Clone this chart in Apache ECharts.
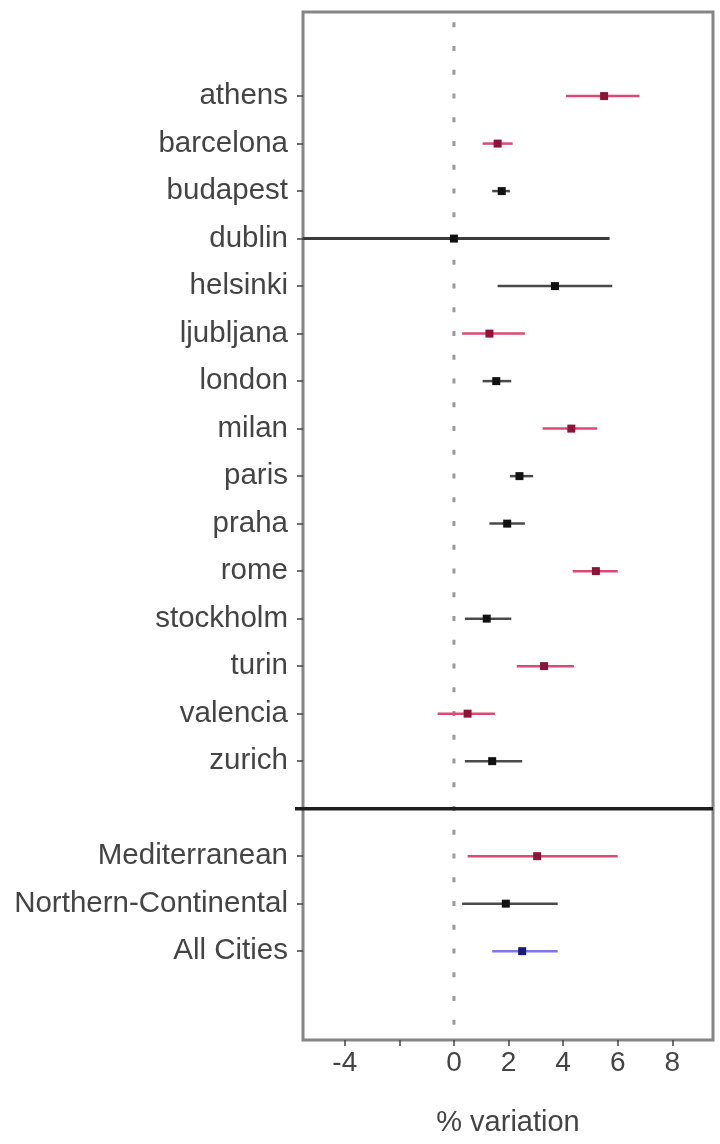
<!DOCTYPE html>
<html>
<head>
<meta charset="utf-8">
<script src="https://cdn.jsdelivr.net/npm/echarts@6/dist/echarts.min.js"></script>
<style>
  html, body { margin: 0; padding: 0; background: #fff; }
  #chart { width: 720px; height: 1144px; }
</style>
</head>
<body>
<div id="chart"></div>
<script>
// City-level estimates (% variation) with 95% interval bounds
const cities = ['athens', 'barcelona', 'budapest', 'dublin', 'helsinki', 'ljubljana', 'london',
  'milan', 'paris', 'praha', 'rome', 'stockholm', 'turin', 'valencia', 'zurich'];
const cityEst  = [5.5, 1.6, 1.75, 0.0, 3.7, 1.3, 1.55, 4.3, 2.4, 1.95, 5.2, 1.2, 3.3, 0.5, 1.4];
const cityLow  = [4.1, 1.05, 1.4, -6.0, 1.6, 0.3, 1.05, 3.25, 2.05, 1.3, 4.35, 0.4, 2.3, -0.6, 0.4];
const cityHigh = [6.8, 2.15, 2.05, 5.7, 5.8, 2.6, 2.1, 5.25, 2.9, 2.6, 6.0, 2.1, 4.4, 1.5, 2.5];
// 0 = Northern-Continental, 1 = Mediterranean
const cityRegion = [1, 1, 0, 0, 0, 1, 0, 1, 0, 0, 1, 0, 1, 1, 0];

// Pooled estimates
const groups = ['Mediterranean', 'Northern-Continental', 'All Cities'];
const groupEst  = [3.05, 1.9, 2.5];
const groupLow  = [0.5, 0.3, 1.4];
const groupHigh = [6.0, 3.8, 3.8];
const groupStyle = [1, 0, 2];

// Axis ticks
const xTicks = [-4, -2, 0, 2, 4, 6, 8];
const xTickLabels = [-4, 0, 2, 4, 6, 8];

const X_MIN = -5.53, X_MAX = 9.49;
const Y_MIN = -0.77, Y_MAX = 20.87;
const SEPARATOR_ROW = 16;

const palette = [
  { line: '#4a4a4a', point: '#111111' },   // northern / continental
  { line: '#dc4a74', point: '#8c1438' },   // mediterranean
  { line: '#7a78ee', point: '#1a1a78' }    // all cities
];

// rows: cities at 1..15, separator at 16, pooled groups at 17..19
const rowNames = {};
cities.forEach((c, i) => { rowNames[i + 1] = c; });
groups.forEach((g, i) => { rowNames[SEPARATOR_ROW + 1 + i] = g; });

const intervalData = [];
cities.forEach((c, i) => {
  intervalData.push([cityLow[i], cityHigh[i], cityEst[i], i + 1, cityRegion[i], i === 3 ? 1 : 0]);
});
groups.forEach((g, i) => {
  intervalData.push([groupLow[i], groupHigh[i], groupEst[i], SEPARATOR_ROW + 1 + i, groupStyle[i], 0]);
});

const labelRows = Object.keys(rowNames).map(Number);
const tickRows = [];
for (let r = 1; r <= SEPARATOR_ROW + groups.length; r++) tickRows.push(r);

const FONT = 'Liberation Sans, Arial, sans-serif';
const chart = echarts.init(document.getElementById('chart'), null, { renderer: 'canvas' });

chart.setOption({
  backgroundColor: '#ffffff',
  animation: false,
  grid: {
    left: 303, right: 7, top: 12, bottom: 104,
    show: true, borderColor: '#858585', borderWidth: 3, backgroundColor: 'transparent'
  },
  xAxis: {
    type: 'value',
    position: 'bottom',
    min: X_MIN, max: X_MAX,
    splitLine: { show: false },
    axisLine: { show: false, onZero: false },
    axisTick: { show: true, length: 6, customValues: xTicks, lineStyle: { color: '#444', width: 1.5 } },
    axisLabel: {
      customValues: xTickLabels, margin: 9,
      fontFamily: FONT, fontSize: 28, color: '#444',
      formatter: v => String(v)
    },
    name: '% variation',
    nameLocation: 'middle',
    nameGap: 68,
    nameTextStyle: { fontFamily: FONT, fontSize: 29, color: '#444' }
  },
  yAxis: {
    type: 'value',
    position: 'left',
    inverse: true,
    min: Y_MIN, max: Y_MAX,
    splitLine: { show: false },
    axisLine: { show: false, onZero: false },
    axisTick: { show: true, length: 6, customValues: tickRows, lineStyle: { color: '#444', width: 1.5 } },
    axisLabel: {
      customValues: labelRows, margin: 15,
      fontFamily: FONT, fontSize: 29.5, color: '#444',
      formatter: v => rowNames[Math.round(v)] || ''
    }
  },
  series: [
    {
      // dotted reference line at zero
      type: 'custom',
      z: 1,
      silent: true,
      data: [[0]],
      renderItem: (params, api) => {
        const a = api.coord([0, Y_MIN]);
        const b = api.coord([0, Y_MAX]);
        return {
          type: 'line',
          shape: { x1: a[0], y1: a[1], x2: b[0], y2: b[1] },
          style: { stroke: '#9a9a9a', lineWidth: 3, lineDash: [5, 18.75], lineDashOffset: 13.5 }
        };
      }
    },
    {
      // separator between individual cities and pooled estimates
      type: 'custom',
      z: 2,
      silent: true,
      data: [[SEPARATOR_ROW]],
      renderItem: (params, api) => {
        const a = api.coord([X_MIN, api.value(0)]);
        const b = api.coord([X_MAX, api.value(0)]);
        return {
          type: 'line',
          shape: { x1: a[0] - 8, y1: a[1], x2: b[0], y2: b[1] },
          style: { stroke: '#1e1e1e', lineWidth: 3.5 }
        };
      }
    },
    {
      // interval bars with point estimates
      type: 'custom',
      z: 3,
      clip: true,
      data: intervalData,
      encode: { x: [0, 1, 2], y: 3 },
      renderItem: (params, api) => {
        const row = api.value(3);
        const lo = api.coord([Math.max(api.value(0), X_MIN), row]);
        const hi = api.coord([Math.min(api.value(1), X_MAX), row]);
        const c = api.coord([api.value(2), row]);
        const col = palette[api.value(4)];
        const wide = api.value(5) === 1;
        return {
          type: 'group',
          children: [
            {
              type: 'line',
              shape: { x1: lo[0], y1: lo[1], x2: hi[0], y2: hi[1] },
              style: { stroke: wide ? '#3a3a3a' : col.line, lineWidth: wide ? 3 : 2.5 }
            },
            {
              type: 'rect',
              shape: { x: c[0] - 4, y: c[1] - 4, width: 8, height: 8 },
              style: { fill: col.point }
            }
          ]
        };
      }
    }
  ]
});
</script>
</body>
</html>
